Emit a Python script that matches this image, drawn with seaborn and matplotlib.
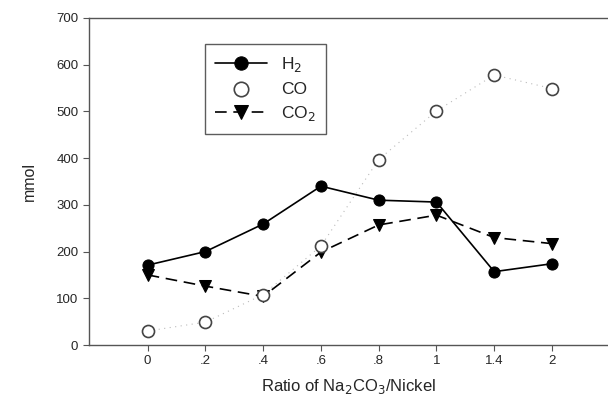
import numpy as np
import pandas as pd
import matplotlib
matplotlib.use("Agg")
import matplotlib.pyplot as plt
import seaborn as sns

# data
ratios = ["0", ".2", ".4", ".6", ".8", "1", "1.4", "2"]
h2 = [171, 200, 259, 340, 310, 306, 157, 174]
co = [30, 49, 108, 212, 397, 501, 578, 549]
co2 = [150, 126, 104, 199, 257, 278, 230, 217]

df = pd.DataFrame({"pos": np.arange(len(ratios)), "H2": h2, "CO": co, "CO2": co2})

sns.set_style("ticks")
plt.rcParams["font.family"] = ["Liberation Sans", "DejaVu Sans"]

fig = plt.figure(figsize=(6.08, 4.0), dpi=100)
ax = fig.add_axes([0.146, 0.1375, 0.854, 0.8175])

sns.lineplot(data=df, x="pos", y="H2", ax=ax, color="black", lw=1.2,
             marker="o", markersize=8, markerfacecolor="black",
             markeredgecolor="black", label="H$_2$", sort=False)
# faint dotted guide through CO points
sns.lineplot(data=df, x="pos", y="CO", ax=ax, color="#bbbbbb", lw=0.8,
             linestyle=(0, (1, 4)), sort=False, legend=False)
sns.scatterplot(data=df, x="pos", y="CO", ax=ax, marker="o", s=75,
                facecolor="white", edgecolor="#444444", linewidth=1.2,
                label="CO", zorder=3)
sns.lineplot(data=df, x="pos", y="CO2", ax=ax, color="black", lw=1.2,
             linestyle=(0, (7, 4)), marker="v", markersize=8,
             markerfacecolor="black", markeredgecolor="black",
             label="CO$_2$", sort=False)

ax.set_xlim(-1.02, 7.97)
ax.set_ylim(0, 700)
ax.set_xticks(df["pos"])
ax.set_xticklabels(ratios)
ax.set_yticks(range(0, 701, 100))
ax.tick_params(axis="both", labelsize=9.5, length=4, width=0.8, color="#555555")
for s in ["left", "bottom", "top"]:
    ax.spines[s].set_color("#555555")
    ax.spines[s].set_linewidth(1.0)
ax.spines["right"].set_visible(False)

ax.set_xlabel("Ratio of Na$_2$CO$_3$/Nickel", fontsize=12)
ax.set_ylabel("mmol", fontsize=11.5)
ax.xaxis.labelpad = 7
ax.yaxis.labelpad = 14

leg = ax.legend(loc="upper left", bbox_to_anchor=(0.2235, 0.92), fontsize=12.5,
                frameon=True, fancybox=False, edgecolor="#333333",
                handlelength=3.0, borderpad=0.6, labelspacing=0.45,
                borderaxespad=0, markerscale=1.2)
leg.get_frame().set_linewidth(1.0)

fig.savefig("out.png", dpi=100)
